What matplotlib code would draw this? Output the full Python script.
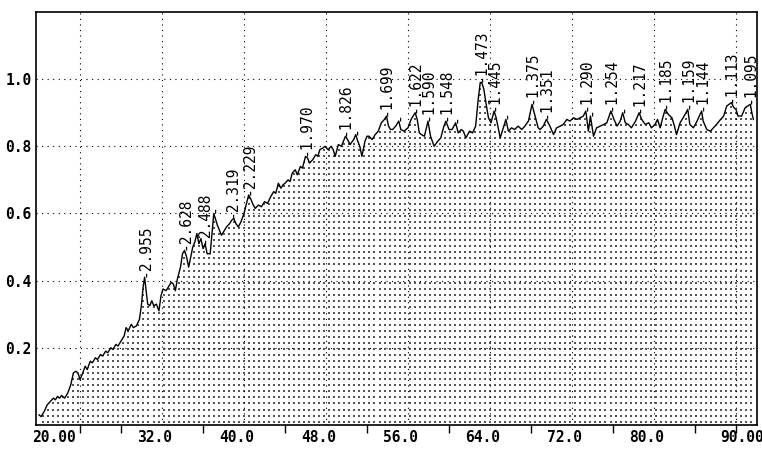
import matplotlib.pyplot as plt
import numpy as np
from matplotlib.transforms import ScaledTranslation

# scan values (2-theta, relative intensity)
two_theta = [20.0, 20.2, 20.5, 20.8, 21.1, 21.4, 21.6, 21.8, 22.0, 22.2, 22.5, 22.8,
             23.1, 23.35, 23.6, 23.8, 24.0, 24.2, 24.5, 24.7, 25.0, 25.2, 25.5, 25.7,
             26.0, 26.2, 26.5, 26.7, 27.0, 27.2, 27.5, 27.7, 28.0, 28.3, 28.5, 28.7,
             29.0, 29.2, 29.5, 29.8, 30.0, 30.15, 30.3, 30.45, 30.6, 30.8, 31.0, 31.2,
             31.45, 31.7, 31.9, 32.1, 32.4, 32.7, 32.9, 33.1, 33.3, 33.5, 33.8, 34.0,
             34.2, 34.4, 34.6, 34.8, 35.0, 35.2, 35.4, 35.6, 35.8, 36.0, 36.2, 36.4,
             36.7, 36.9, 37.05, 37.2, 37.4, 37.6, 37.8, 38.0, 38.3, 38.6, 38.8, 39.0,
             39.2, 39.45, 39.7, 40.0, 40.2, 40.45, 40.7, 40.9, 41.1, 41.4, 41.7, 42.0,
             42.3, 42.6, 42.9, 43.1, 43.35, 43.6, 43.8, 44.0, 44.3, 44.5, 44.7, 45.0,
             45.2, 45.5, 45.7, 46.0, 46.2, 46.4, 46.7, 47.0, 47.2, 47.4, 47.7, 47.9,
             48.2, 48.5, 48.7, 48.9, 49.2, 49.5, 49.7, 49.9, 50.1, 50.35, 50.7, 50.9,
             51.1, 51.3, 51.5, 51.8, 52.0, 52.2, 52.5, 52.8, 53.1, 53.4, 53.7, 53.9,
             54.1, 54.3, 54.5, 54.8, 55.1, 55.3, 55.6, 55.8, 56.0, 56.3, 56.7, 56.9,
             57.1, 57.3, 57.6, 57.95, 58.2, 58.55, 58.9, 59.2, 59.5, 59.7, 60.0, 60.3,
             60.65, 60.9, 61.2, 61.4, 61.65, 62.0, 62.3, 62.6, 62.85, 63.05, 63.2, 63.4,
             63.6, 63.85, 64.1, 64.4, 64.6, 65.0, 65.3, 65.55, 65.8, 66.1, 66.4, 66.75,
             67.1, 67.4, 67.75, 68.1, 68.4, 68.7, 68.9, 69.2, 69.5, 69.85, 70.2, 70.5,
             70.85, 71.15, 71.5, 71.8, 72.15, 72.5, 72.8, 73.1, 73.35, 73.6, 73.8, 74.1,
             74.4, 74.75, 75.1, 75.4, 75.8, 76.1, 76.4, 76.7, 76.95, 77.2, 77.5, 77.8,
             78.2, 78.55, 78.8, 79.15, 79.5, 79.75, 80.1, 80.35, 80.6, 80.9, 81.1, 81.4,
             81.75, 82.0, 82.2, 82.55, 82.85, 83.3, 83.5, 83.85, 84.2, 84.65, 84.8, 85.15,
             85.5, 85.8, 86.1, 86.5, 86.8, 87.1, 87.55, 87.8, 88.0, 88.2, 88.55, 88.9,
             89.4, 89.55, 89.7]
intensity = [0.00, -0.005, 0.01, 0.03, 0.04, 0.05, 0.045, 0.055, 0.05, 0.058, 0.05, 0.065,
             0.09, 0.125, 0.13, 0.125, 0.105, 0.12, 0.145, 0.135, 0.16, 0.155, 0.17, 0.165,
             0.18, 0.175, 0.19, 0.185, 0.2, 0.195, 0.21, 0.205, 0.22, 0.235, 0.26, 0.25,
             0.27, 0.26, 0.265, 0.285, 0.33, 0.38, 0.41, 0.37, 0.33, 0.325, 0.34, 0.325,
             0.33, 0.31, 0.355, 0.375, 0.37, 0.385, 0.395, 0.39, 0.37, 0.405, 0.44, 0.48,
             0.49, 0.47, 0.44, 0.47, 0.50, 0.515, 0.54, 0.51, 0.525, 0.495, 0.51, 0.48,
             0.48, 0.55, 0.60, 0.585, 0.565, 0.55, 0.535, 0.545, 0.56, 0.57, 0.58, 0.585,
             0.57, 0.56, 0.575, 0.6, 0.625, 0.655, 0.64, 0.625, 0.615, 0.625, 0.62, 0.635,
             0.63, 0.65, 0.665, 0.66, 0.69, 0.675, 0.685, 0.69, 0.70, 0.695, 0.72, 0.73,
             0.715, 0.74, 0.735, 0.77, 0.765, 0.75, 0.76, 0.775, 0.77, 0.79, 0.795, 0.80,
             0.79, 0.80, 0.79, 0.77, 0.805, 0.80, 0.815, 0.83, 0.82, 0.805, 0.82, 0.835,
             0.815, 0.80, 0.77, 0.815, 0.83, 0.83, 0.82, 0.835, 0.845, 0.87, 0.88, 0.89,
             0.86, 0.85, 0.85, 0.86, 0.875, 0.85, 0.845, 0.85, 0.855, 0.88, 0.90, 0.88,
             0.84, 0.835, 0.83, 0.875, 0.83, 0.80, 0.815, 0.825, 0.86, 0.875, 0.85, 0.85,
             0.87, 0.84, 0.85, 0.845, 0.825, 0.845, 0.84, 0.86, 0.94, 0.99, 0.99, 0.97,
             0.93, 0.885, 0.87, 0.905, 0.885, 0.825, 0.855, 0.88, 0.845, 0.855, 0.85, 0.86,
             0.85, 0.86, 0.875, 0.925, 0.89, 0.855, 0.85, 0.86, 0.88, 0.86, 0.835, 0.855,
             0.86, 0.865, 0.88, 0.875, 0.885, 0.88, 0.885, 0.89, 0.905, 0.845, 0.89, 0.83,
             0.855, 0.86, 0.865, 0.87, 0.905, 0.88, 0.86, 0.875, 0.90, 0.87, 0.865, 0.855,
             0.875, 0.90, 0.88, 0.865, 0.87, 0.855, 0.865, 0.88, 0.855, 0.89, 0.91, 0.895,
             0.885, 0.86, 0.835, 0.87, 0.885, 0.91, 0.865, 0.855, 0.875, 0.905, 0.875, 0.85,
             0.845, 0.855, 0.865, 0.88, 0.89, 0.92, 0.93, 0.915, 0.91, 0.89, 0.89, 0.915,
             0.925, 0.90, 0.88]

# labelled peaks (d-spacing) and unlabelled marks
peak_pos = [30.3, 34.2, 36.1, 38.8, 40.45, 46.0, 49.9, 53.9, 56.7, 57.95, 59.7,
            63.1, 64.4, 68.1, 69.5, 73.35, 75.8, 78.55, 81.1, 83.3, 84.65, 87.55, 89.4]
peak_lbl = ['2.955', '2.628', '2.488', '2.319', '2.229', '1.970', '1.826', '1.699',
            '1.622', '1.590', '1.548', '1.473', '1.445', '1.375', '1.351', '1.290',
            '1.254', '1.217', '1.185', '1.159', '1.144', '1.113', '1.095']
mark_pos = [37.05, 50.9, 55.1, 60.65, 65.55, 73.8, 76.95]

xtick_lbl = ['20.00', '32.0', '40.0', '48.0', '56.0', '64.0', '72.0', '80.0', '90.00']
xtick_pos = [20, 32, 40, 48, 56, 64, 72, 80, 90]

x = np.array(two_theta)
y = np.array(intensity)

fig = plt.figure(figsize=(7.62, 4.49), dpi=100)
ax = fig.add_axes([0.0472, 0.0535, 0.9462, 0.9198])
ax.set_xlim(19.7, 90.05)
ax.set_ylim(-0.03, 1.2)

# stipple fill under the curve
poly = ax.fill_between(x, y, -0.03, facecolor='none', edgecolor='none')
gx, gy = np.meshgrid(np.arange(19.9, 90.05, 0.49), np.arange(-0.02, 1.05, 0.018))
dots = ax.scatter(gx.ravel(), gy.ravel(), s=0.9, marker='s', color='#555555', lw=0, zorder=1)
dots.set_clip_path(poly.get_paths()[0], ax.transData)

# dotted grid
for gxv in range(24, 89, 8):
    ax.axvline(gxv, color='k', lw=0.8, ls=(0, (1, 4)), zorder=2)
for gyv in [0.2, 0.4, 0.6, 0.8, 1.0]:
    ax.axhline(gyv, color='k', lw=0.8, ls=(0, (1, 4)), zorder=2)

ax.plot(x, y, color='k', lw=1.0, zorder=3)

# peak labels
for pos, lbl in zip(peak_pos, peak_lbl):
    top = y[np.abs(x - pos) < 0.3].max()
    ax.annotate('-' + lbl, (pos, top), xytext=(0, 0), textcoords='offset points',
                rotation=90, ha='center', va='bottom', fontsize=10.5,
                family='DejaVu Sans Mono', zorder=4)
for pos in mark_pos:
    top = y[np.abs(x - pos) < 0.2].max()
    ax.annotate('-', (pos, top), xytext=(0, 0), textcoords='offset points',
                rotation=90, ha='center', va='bottom', fontsize=10.5,
                family='DejaVu Sans Mono', zorder=4)

# axes / ticks
for sp in ax.spines.values():
    sp.set_linewidth(1.2)
ax.set_xticks(np.arange(20, 89, 4), minor=True)
ax.tick_params(axis='x', which='minor', length=6, width=1.0, direction='out')
ax.set_xticks(xtick_pos)
ax.set_xticklabels(xtick_lbl, fontsize=10.5, family='DejaVu Sans Mono', weight='bold')
ax.tick_params(axis='x', which='major', length=0, pad=3.5)
shifts = [15, -7, -7, -7, -7, -7, -7, -7, -14]
for lab, dx in zip(ax.get_xticklabels(), shifts):
    lab.set_transform(lab.get_transform() + ScaledTranslation(dx / 100, 0, fig.dpi_scale_trans))

ax.set_yticks([0.2, 0.4, 0.6, 0.8, 1.0])
ax.set_yticklabels(['0.2', '0.4', '0.6', '0.8', '1.0'], fontsize=10.5,
                   family='DejaVu Sans Mono', weight='bold')
ax.tick_params(axis='y', length=0, pad=3)

fig.savefig('out.png', dpi=100)
